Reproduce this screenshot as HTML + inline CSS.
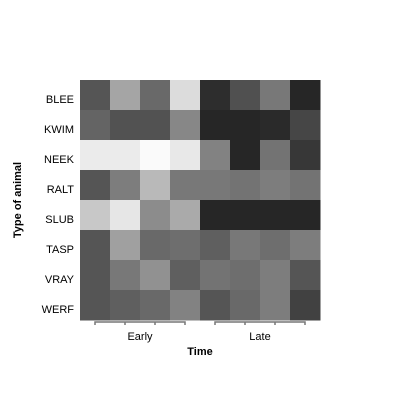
<!DOCTYPE html>
<html><head><style>body{margin:0;background:#fff}svg text{font-family:"Liberation Sans",sans-serif}</style></head>
<body>
<svg width="400" height="400" id="c"></svg>
<script>
const rows=["BLEE","KWIM","NEEK","RALT","SLUB","TASP","VRAY","WERF"];
const cols=["E1","E2","E3","E4","L1","L2","L3","L4"];
const groups=["Early","Late"];
const v0=[85,165,105,220,45,80,120,38];
const v1=[100,82,82,135,38,38,42,70];
const v2=[235,235,250,232,130,38,115,55];
const v3=[85,125,185,120,120,115,125,115];
const v4=[200,230,140,170,38,38,38,38];
const v5=[85,160,105,110,95,120,110,125];
const v6=[85,120,145,95,115,110,125,85];
const v7=[85,95,105,130,85,105,125,65];
const vals=[v0,v1,v2,v3,v4,v5,v6,v7];
const svg=document.getElementById('c');const NS="http://www.w3.org/2000/svg";
const X0=80,Y0=80,W=240,H=240,cw=W/cols.length,rh=H/rows.length;
const xs=i=>X0+i*cw, ys=j=>Y0+j*rh;
function mk(t,a){const e=document.createElementNS(NS,t);for(const k in a)e.setAttribute(k,a[k]);svg.appendChild(e);return e;}
vals.forEach((r,j)=>r.forEach((v,i)=>{const g=Math.round(v);
 const e=mk('rect',{x:xs(i),y:ys(j),width:cw+0.5,height:rh+0.5,fill:`rgb(${g},${g},${g})`});
 
 }));
rows.forEach((r,j)=>{const t=mk('text',{x:74,y:ys(j)+rh/2+8,'text-anchor':'end','font-size':11});t.textContent=r;
 
 });
groups.forEach((g,k)=>{const a=xs(k*4)+cw/2,b=xs(k*4+3)+cw/2;
 let d=`M${a},325V322H${b}V325`;for(let i=1;i<3;i++){const x=xs(k*4+i)+cw/2;d+=`M${x},322V325`;}
 const p=mk('path',{d:d,stroke:'#777','stroke-width':1.5,fill:'none'});
 
 
 const t=mk('text',{x:(a+b)/2,y:340,'text-anchor':'middle','font-size':11});t.textContent=g;
 
 });
const xt=mk('text',{x:200,y:355,'text-anchor':'middle','font-size':11,'font-weight':'bold'});xt.textContent="Time";


const yt=mk('text',{x:0,y:0,'text-anchor':'middle','font-size':11,'font-weight':'bold',transform:'translate(21,200) rotate(-90)'});yt.textContent="Type of animal";


</script>
</body></html>
